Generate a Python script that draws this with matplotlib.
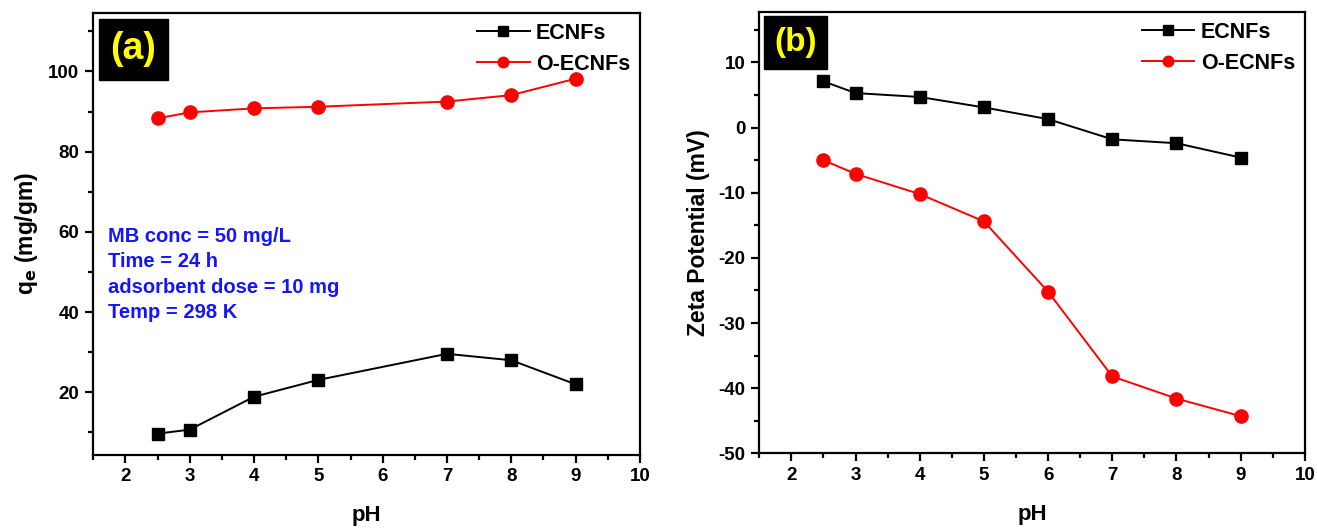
import matplotlib
matplotlib.use("Agg")
import matplotlib.pyplot as plt
from matplotlib.ticker import MultipleLocator
from matplotlib.patches import Rectangle

plt.rcParams['font.family'] = ['Liberation Sans', 'DejaVu Sans']
plt.rcParams['font.weight'] = 'bold'
plt.rcParams['axes.unicode_minus'] = False

# ---- data ----
ph_a = [2.5, 3, 4, 5, 7, 8, 9]
qe_ecnf = [9.7, 10.7, 18.9, 23.1, 29.6, 28.0, 22.0]
qe_oecnf = [88.3, 89.8, 90.8, 91.2, 92.5, 94.1, 98.2]

ph_b = [2.5, 3, 4, 5, 6, 7, 8, 9]
zeta_ecnf = [7.1, 5.3, 4.7, 3.1, 1.3, -1.8, -2.4, -4.6]
zeta_oecnf = [-5.0, -7.1, -10.2, -14.4, -25.2, -38.2, -41.6, -44.3]

series_labels = ["ECNFs", "O-ECNFs"]
conditions = ["MB conc = 50 mg/L", "Time = 24 h", "adsorbent dose = 10 mg", "Temp = 298 K"]

fig = plt.figure(figsize=(13.17, 5.28), dpi=100)
ax1 = fig.add_axes([0.0708, 0.1392, 0.4151, 0.8356])
ax2 = fig.add_axes([0.5765, 0.1415, 0.4143, 0.8352])

def style(ax):
    for s in ax.spines.values():
        s.set_linewidth(1.6)
    ax.tick_params(which='major', direction='out', length=6, width=1.6, labelsize=13.5, pad=4)
    ax.tick_params(which='minor', direction='out', length=3.5, width=1.6)
    ax.xaxis.set_major_locator(MultipleLocator(1))
    ax.xaxis.set_minor_locator(MultipleLocator(0.5))
    for lab in ax.get_xticklabels() + ax.get_yticklabels():
        lab.set_fontweight('bold')

def panel_tag(ax, tag, x0, x1, y0, y1, size):
    ax.add_patch(Rectangle((x0, y0), x1 - x0, y1 - y0, transform=ax.transAxes,
                           facecolor='black', edgecolor='black', zorder=5, clip_on=False))
    ax.text((x0 + x1) / 2, (y0 + y1) / 2, tag, transform=ax.transAxes, fontsize=size,
            fontweight='bold', color='#ffff00', ha='center', va='center', zorder=6)

def legend(ax):
    ax.legend(loc='upper right', frameon=False, handlelength=2.45, markerscale=0.8,
              borderaxespad=0.15, labelspacing=0.45, handletextpad=0.3,
              borderpad=0.3, prop={'weight': 'bold', 'size': 15.5})

# Panel (a)
ax1.plot(ph_a, qe_ecnf, color='black', marker='s', markersize=8.5, lw=1.4, label=series_labels[0])
ax1.plot(ph_a, qe_oecnf, color='red', marker='o', markersize=9.5, lw=1.4, label=series_labels[1])
ax1.set_xlim(1.5, 10)
ax1.set_ylim(4.5, 114.5)
ax1.yaxis.set_major_locator(MultipleLocator(20))
ax1.yaxis.set_minor_locator(MultipleLocator(10))
style(ax1)
ax1.set_yticks([20, 40, 60, 80, 100])
ax1.set_xlabel('pH', fontsize=16, fontweight='bold', labelpad=14)
ax1.set_ylabel(r'q$_\mathbf{e}$ (mg/gm)', fontsize=16.5, fontweight='bold', labelpad=6)
legend(ax1)
panel_tag(ax1, '(a)', 0.0104, 0.1366, 0.849, 0.987, 27)
for i, line in enumerate(conditions):
    ax1.text(0.027, 0.495 - i * 0.058, line, transform=ax1.transAxes, fontsize=14.5,
             fontweight='bold', color='#1414ff', va='center', ha='left')

# Panel (b)
ax2.plot(ph_b, zeta_ecnf, color='black', marker='s', markersize=8.5, lw=1.4, label=series_labels[0])
ax2.plot(ph_b, zeta_oecnf, color='red', marker='o', markersize=9.5, lw=1.4, label=series_labels[1])
ax2.set_xlim(1.5, 10)
ax2.set_ylim(-50, 17.7)
ax2.yaxis.set_major_locator(MultipleLocator(10))
ax2.yaxis.set_minor_locator(MultipleLocator(5))
style(ax2)
ax2.set_xlabel('pH', fontsize=16, fontweight='bold', labelpad=14)
ax2.set_ylabel('Zeta Potential (mV)', fontsize=16.5, fontweight='bold', labelpad=6)
legend(ax2)
panel_tag(ax2, '(b)', 0.0086, 0.124, 0.871, 0.992, 24)

fig.savefig('out.png', dpi=100)
